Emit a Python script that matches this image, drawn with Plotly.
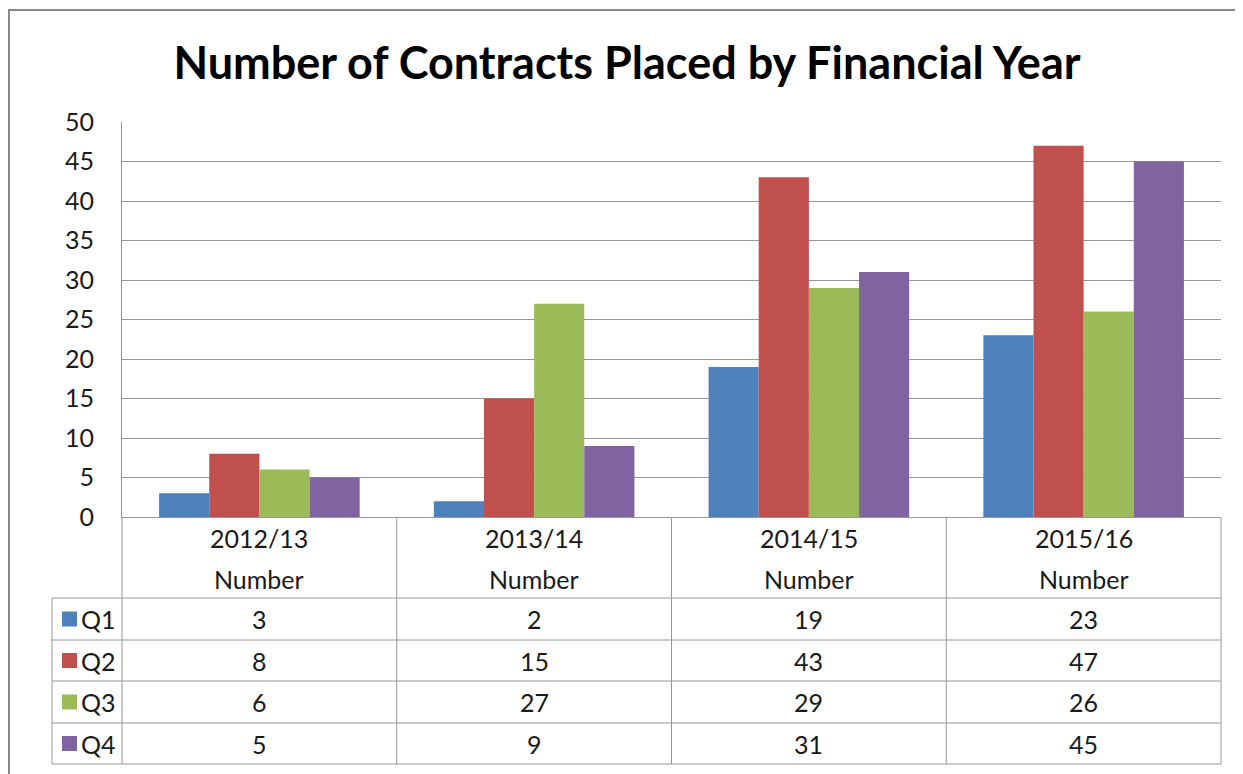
import plotly.graph_objects as go

# ---- data ----
years = ["2012/13", "2013/14", "2014/15", "2015/16"]
series_names = ["Q1", "Q2", "Q3", "Q4"]
q1 = [3, 2, 19, 23]
q2 = [8, 15, 43, 47]
q3 = [6, 27, 29, 26]
q4 = [5, 9, 31, 45]
row_label = "Number"
title_text = "Number of Contracts Placed by Financial Year"
y_ticks = [0, 5, 10, 15, 20, 25, 30, 35, 40, 45, 50]

series_values = [q1, q2, q3, q4]
colors = ["#4F81BD", "#C0504D", "#9BBB59", "#8064A2"]

OFF = 8  # page body margin
W, H = 1243 - OFF, 774 - OFF
# page-pixel geometry of the plot area
L, R, T, B = 122, 1221, 122, 517
GRID = "#969696"
FONT = "Lato"
TXT = "#1a1a1a"
FS = 25


def px(xp):
    return (xp - L) / (R - L)


def py(yp):
    return (B - yp) / (B - T)


fig = go.Figure()
for name, vals, col in zip(series_names, series_values, colors):
    fig.add_trace(go.Bar(x=years, y=vals, name=name, marker=dict(color=col, line=dict(width=0))))

shapes = []
annotations = []

# outer chart border
shapes.append(dict(type="rect", xref="paper", yref="paper", x0=px(9), x1=px(1260),
                   y0=py(10), y1=py(790), line=dict(color="#888888", width=2), layer="below"))

# table geometry (page pixels)
header_bottom = 598
row_lines = [640, 681, 723, 764]
table_left = 52
n = len(years)

# horizontal lines
shapes.append(dict(type="line", xref="paper", yref="paper", x0=px(table_left), x1=1,
                   y0=py(header_bottom), y1=py(header_bottom), line=dict(color=GRID, width=1)))
for yl in row_lines:
    shapes.append(dict(type="line", xref="paper", yref="paper", x0=px(table_left), x1=1,
                       y0=py(yl), y1=py(yl), line=dict(color=GRID, width=1)))
# vertical lines
shapes.append(dict(type="line", xref="paper", yref="paper", x0=px(table_left), x1=px(table_left),
                   y0=py(header_bottom), y1=py(row_lines[-1]), line=dict(color=GRID, width=1)))
shapes.append(dict(type="line", xref="paper", yref="paper", x0=0, x1=0,
                   y0=0, y1=py(row_lines[-1]), line=dict(color=GRID, width=1)))
for i in range(n):
    xb = (i + 1) / n
    shapes.append(dict(type="line", xref="paper", yref="paper", x0=xb, x1=xb,
                       y0=0, y1=py(row_lines[-1]), line=dict(color=GRID, width=1)))

# header texts
for yr in years:
    annotations.append(dict(x=yr, xref="x", y=py(538), yref="paper", text=yr, showarrow=False,
                            font=dict(family=FONT, size=FS, color=TXT), xanchor="center", yanchor="middle"))
    annotations.append(dict(x=yr, xref="x", y=py(579), yref="paper", text=row_label, showarrow=False,
                            font=dict(family=FONT, size=FS, color=TXT), xanchor="center", yanchor="middle"))

# data rows
row_tops = [header_bottom] + row_lines
for r, (name, vals, col) in enumerate(zip(series_names, series_values, colors)):
    yc = (row_tops[r] + row_tops[r + 1]) / 2
    shapes.append(dict(type="rect", xref="paper", yref="paper", x0=px(62), x1=px(77),
                       y0=py(yc + 7.5), y1=py(yc - 7.5), fillcolor=col, line=dict(width=0)))
    annotations.append(dict(x=px(79), xref="paper", y=py(yc), yref="paper", text=name, showarrow=False,
                            font=dict(family=FONT, size=FS, color=TXT), xanchor="left", yanchor="middle"))
    for yr, v in zip(years, vals):
        annotations.append(dict(x=yr, xref="x", y=py(yc), yref="paper", text=str(v), showarrow=False,
                                font=dict(family=FONT, size=FS, color=TXT), xanchor="center", yanchor="middle"))

fig.update_layout(
    width=W, height=H,
    margin=dict(l=L - OFF, r=W + OFF - R, t=T - OFF, b=H + OFF - B),
    paper_bgcolor="white", plot_bgcolor="white",
    barmode="group", bargap=0.27, bargroupgap=0,
    showlegend=False,
    title=dict(text=title_text, x=(627 - L) / (R - L), xref="paper", xanchor="center",
               y=1 - (63 - OFF) / H, yref="container", yanchor="middle",
               font=dict(family=FONT, size=45, color="#000000", weight="bold")),
    xaxis=dict(range=[-0.5, n - 0.5], showticklabels=False, ticks="", showgrid=False,
               showline=True, linecolor=GRID, linewidth=1, zeroline=False, fixedrange=True),
    yaxis=dict(range=[0, 50], tickvals=y_ticks, ticktext=[str(t) for t in y_ticks],
               showgrid=True, gridcolor=GRID, gridwidth=1, zeroline=False,
               showline=True, linecolor=GRID, linewidth=1,
               ticks="outside", ticklen=22, tickcolor="rgba(0,0,0,0)",
               tickfont=dict(family=FONT, size=FS, color=TXT)),
    shapes=shapes,
    annotations=annotations,
)

fig.write_html("out.html")
